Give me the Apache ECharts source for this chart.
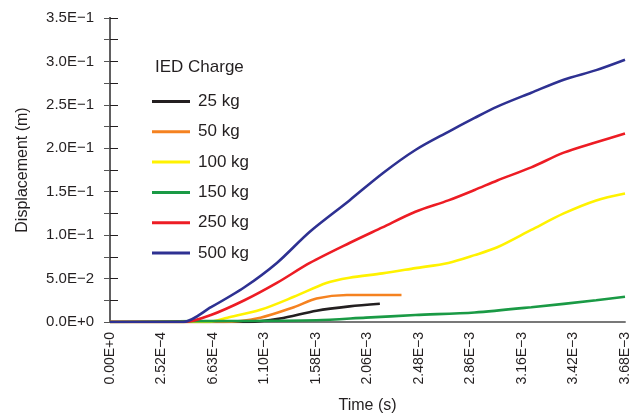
<!DOCTYPE html>
<html>
<head>
<meta charset="utf-8">
<title>IED Charge displacement</title>
<script src="https://cdn.jsdelivr.net/npm/echarts@6/dist/echarts.min.js"></script>
<style>
  html, body { margin: 0; padding: 0; background: #fff; }
  #chart { width: 632px; height: 419px; }
</style>
</head>
<body>
<div id="chart"></div>
<script>
  // tick labels of the (sample-index) time axis
  var timeLabels = ['0.00E+0', '2.52E\u22124', '6.63E\u22124', '1.10E\u22123', '1.58E\u22123', '2.06E\u22123',
    '2.48E\u22123', '2.86E\u22123', '3.16E\u22123', '3.42E\u22123', '3.68E\u22123'];
  var dispLabels = ['0.0E+0', '5.0E\u22122', '1.0E\u22121', '1.5E\u22121', '2.0E\u22121', '2.5E\u22121', '3.0E\u22121', '3.5E\u22121'];

  var seriesNames = ['25 kg', '50 kg', '100 kg', '150 kg', '250 kg', '500 kg'];
  var seriesColors = ['#231f20', '#f58220', '#fff200', '#1a9a45', '#ed1c24', '#2e3192'];

  // [tick position, displacement in m]
  var kg25 = [[0, 0], [2.7, 0], [3.3, 0.004], [4.01, 0.013], [4.65, 0.018], [5.24, 0.021]];
  var kg50 = [[0, 0], [2.2, 0], [2.92, 0.005], [3.57, 0.017], [4.01, 0.027], [4.6, 0.031], [5.66, 0.031]];
  var kg100 = [[0, 0], [1.9, 0], [2.28, 0.005], [2.92, 0.014], [3.57, 0.029], [4.2, 0.045], [4.65, 0.051], [5.29, 0.056],
    [5.93, 0.062], [6.57, 0.068], [7.08, 0.077], [7.52, 0.086], [8.18, 0.106], [8.81, 0.125], [9.44, 0.140], [10, 0.148]];
  var kg150 = [[0, 0], [1.7, 0.001], [4.01, 0.002], [4.97, 0.005], [5.93, 0.008], [7.08, 0.011], [8.18, 0.017],
    [9.44, 0.025], [10, 0.029]];
  var kg250 = [[0, 0], [1.45, 0], [1.96, 0.008], [2.61, 0.025], [3.24, 0.045], [3.88, 0.068], [4.65, 0.091], [5.29, 0.109],
    [5.93, 0.127], [6.57, 0.140], [7.08, 0.152], [7.52, 0.163], [8.18, 0.178], [8.81, 0.195], [9.44, 0.207], [10, 0.217]];
  var kg500 = [[0, 0], [1.42, 0], [1.96, 0.017], [2.61, 0.040], [3.24, 0.068], [3.88, 0.104], [4.65, 0.140], [5.29, 0.171],
    [5.93, 0.198], [6.57, 0.219], [7.08, 0.235], [7.52, 0.248], [8.18, 0.264], [8.81, 0.279], [9.44, 0.290], [10, 0.302]];

  var seriesData = [kg25, kg50, kg100, kg150, kg250, kg500];

  var chart = echarts.init(document.getElementById('chart'));

  var series = seriesNames.map(function(name, i) {
    return {
      name: name,
      type: 'line',
      data: seriesData[i],
      showSymbol: false,
      symbol: 'none',
      smooth: 0.3,
      color: seriesColors[i],
      lineStyle: { width: 2.6, color: seriesColors[i] },
      animation: false
    };
  });

  chart.setOption({
    backgroundColor: '#fff',
    textStyle: { fontFamily: 'Liberation Sans, Arial, sans-serif' },
    grid: { left: 110, right: 1, top: 18, bottom: 97 },
    title: {
      text: 'IED Charge',
      left: 150,
      top: 54,
      textStyle: { fontSize: 17, fontWeight: 'normal', color: '#231f20', fontFamily: 'Liberation Sans, Arial, sans-serif' }
    },
    legend: {
      data: seriesNames,
      orient: 'vertical',
      left: 147,
      top: 88,
      icon: 'rect',
      itemWidth: 38,
      itemHeight: 3,
      itemGap: 13.3,
      textStyle: { fontSize: 17, lineHeight: 17, color: '#231f20', padding: [0, 0, 0, 3] }
    },
    xAxis: [{
      type: 'value',
      min: 0,
      max: 10,
      interval: 1,
      name: 'Time (s)',
      nameLocation: 'middle',
      nameGap: 76,
      nameTextStyle: { fontSize: 16, color: '#231f20' },
      axisLine: { lineStyle: { color: '#555', width: 1.5 } },
      axisTick: { show: false },
      splitLine: { show: false },
      axisLabel: {
        rotate: 90,
        fontSize: 14,
        color: '#231f20',
        margin: 10,
        showMaxLabel: true,
        formatter: function(v) { return timeLabels[Math.round(v)]; }
      }
    }, {
      type: 'value',
      position: 'top',
      min: 0,
      max: 10,
      axisLine: { show: true, lineStyle: { color: '#777', width: 1.5 } },
      axisTick: { show: false },
      axisLabel: { show: false },
      splitLine: { show: false }
    }],
    yAxis: [{
      type: 'value',
      min: 0,
      max: 0.35,
      interval: 0.05,
      name: 'Displacement (m)',
      nameLocation: 'middle',
      nameGap: 79,
      nameTextStyle: { fontSize: 16, color: '#231f20' },
      axisLine: { show: true, lineStyle: { color: '#231f20', width: 2 } },
      axisTick: { show: true, inside: true, length: 8, lineStyle: { color: '#231f20' } },
      minorTick: { show: true, splitNumber: 2, length: 8, lineStyle: { color: '#231f20' } },
      splitLine: { show: false },
      axisLabel: {
        fontSize: 15,
        color: '#231f20',
        margin: 16,
        formatter: function(v) { return dispLabels[Math.round(v / 0.05)]; }
      }
    }, {
      type: 'value',
      position: 'right',
      min: 0,
      max: 0.35,
      interval: 0.05,
      axisLine: { show: true, lineStyle: { color: '#777', width: 1.5 } },
      axisTick: { show: true, inside: true, length: 6, lineStyle: { color: '#555' } },
      minorTick: { show: true, splitNumber: 2, length: 6, lineStyle: { color: '#555' } },
      axisLabel: { show: false },
      splitLine: { show: false }
    }],
    series: series
  });
</script>
</body>
</html>
